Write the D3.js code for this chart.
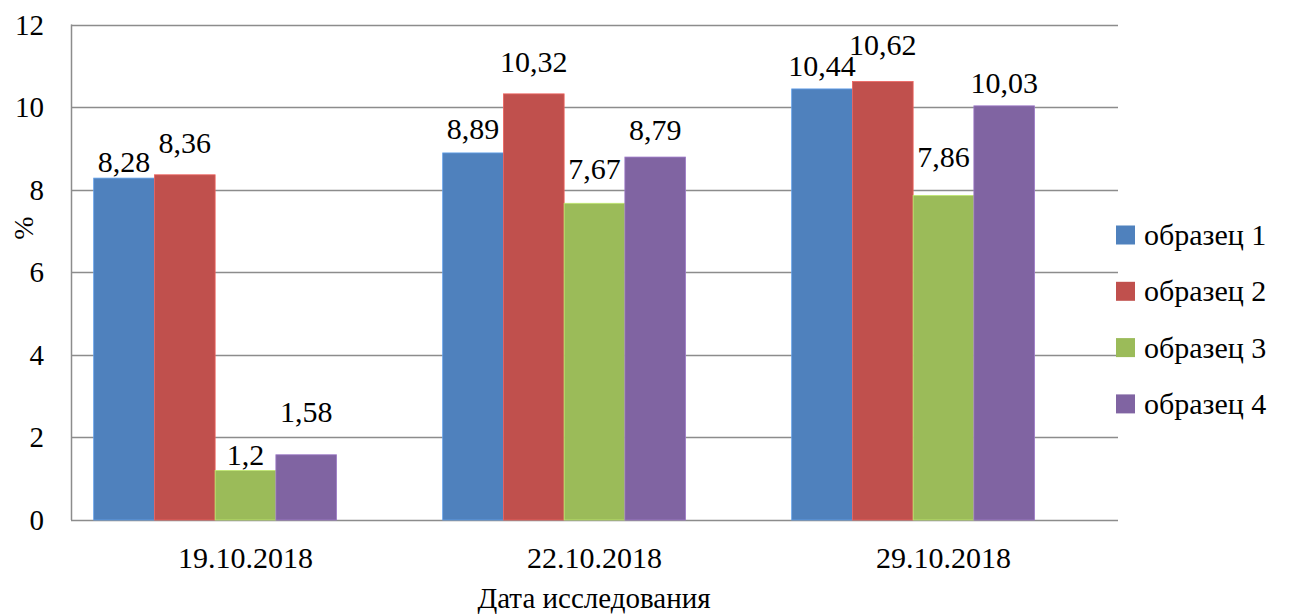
<!DOCTYPE html>
<html>
<head>
<meta charset="utf-8">
<script src="https://cdn.jsdelivr.net/npm/d3@7"></script>
</head>
<body style="margin:0">
<script>
var dates = ["19.10.2018", "22.10.2018", "29.10.2018"];
var seriesNames = ["образец 1", "образец 2", "образец 3", "образец 4"];
var sample1 = [8.28, 8.89, 10.44];
var sample2 = [8.36, 10.32, 10.62];
var sample3 = [1.2, 7.67, 7.86];
var sample4 = [1.58, 8.79, 10.03];
var yTicks = [0, 2, 4, 6, 8, 10, 12];

var colors = ["#4F81BD", "#C0504D", "#9BBB59", "#8064A2"];
// how far each value label sits above its bar (the original has them nudged by hand)
var labelLift = [[6, 22, 5, 33], [14, 22, 24, 17], [13, 26, 28, 13]];

var FONT = "Tinos, 'Liberation Serif', 'Times New Roman', serif";

var W = 1298, H = 616;
var margin = { top: 24.5, right: 180, bottom: 96, left: 71 };

var svg = d3.select("body").append("svg")
    .attr("width", W)
    .attr("height", H)
    .style("font-family", FONT);

var x0 = d3.scaleBand()
    .domain(dates)
    .range([margin.left, W - margin.right])
    .paddingInner(0.13)
    .paddingOuter(0.065);

// five slots per group, the last one stays empty (as in the original)
var x1 = d3.scaleBand()
    .domain(d3.range(5))
    .range([0, x0.bandwidth()]);

var y = d3.scaleLinear()
    .domain([0, 12])
    .range([H - margin.bottom, margin.top]);

var allSeries = [sample1, sample2, sample3, sample4];
var cells = [];
dates.forEach((d, i) => allSeries.forEach((s, k) => cells.push({ date: d, i: i, k: k, v: s[i] })));

// grid
svg.selectAll("line.grid")
    .data(yTicks)
    .enter().append("line")
    .attr("class", "grid")
    .attr("x1", margin.left)
    .attr("x2", W - margin.right)
    .attr("y1", d => Math.round(y(d)) + 0.5)
    .attr("y2", d => Math.round(y(d)) + 0.5)
    .attr("stroke", "#8c8c8c")
    .attr("stroke-width", 1.5);

svg.append("line")
    .attr("x1", margin.left + 0.5)
    .attr("x2", margin.left + 0.5)
    .attr("y1", y(12))
    .attr("y2", y(0))
    .attr("stroke", "#8c8c8c")
    .attr("stroke-width", 1.5);

// bars
svg.selectAll("rect.bar")
    .data(cells)
    .enter().append("rect")
    .attr("class", "bar")
    .attr("x", d => x0(d.date) + x1(d.k))
    .attr("width", x1.bandwidth())
    .attr("y", d => y(d.v))
    .attr("height", d => y(0) - y(d.v))
    .attr("fill", d => colors[d.k])
    .attr("stroke", d => d3.color(colors[d.k]).brighter(0.6))
    .attr("stroke-width", 0.8);

// legend swatches
svg.selectAll("rect.key")
    .data(seriesNames)
    .enter().append("rect")
    .attr("class", "key")
    .attr("x", 1116)
    .attr("y", (d, i) => 225.5 + i * 56.3)
    .attr("width", 19)
    .attr("height", 19)
    .attr("fill", (d, i) => colors[i]);

// y tick labels
svg.selectAll("text.tick")
    .data(yTicks)
    .enter().append("text")
    .attr("class", "tick")
    .attr("x", 44)
    .attr("y", d => y(d) + 10)
    .attr("text-anchor", "end")
    .style("font-family", FONT)
    .attr("font-size", 29)
    .text(d => String(d));

// value labels
svg.selectAll("text.val")
    .data(cells)
    .enter().append("text")
    .attr("class", "val")
    .attr("x", d => x0(d.date) + x1(d.k) + x1.bandwidth() / 2)
    .attr("y", d => y(d.v) - labelLift[d.i][d.k])
    .attr("text-anchor", "middle")
    .style("font-family", FONT)
    .attr("font-size", 30)
    .text(d => String(d.v).replace(".", ","));

// x category labels
svg.selectAll("text.cat")
    .data(dates)
    .enter().append("text")
    .attr("class", "cat")
    .attr("x", d => x0(d) + x0.bandwidth() / 2)
    .attr("y", 568)
    .attr("text-anchor", "middle")
    .style("font-family", FONT)
    .attr("font-size", 30)
    .text(d => d);

// axis titles
svg.append("text")
    .attr("x", 594)
    .attr("y", 608)
    .attr("text-anchor", "middle")
    .style("font-family", FONT)
    .attr("font-size", 29)
    .text("Дата исследования");

svg.append("text")
    .attr("transform", "translate(33,228) rotate(-90)")
    .attr("text-anchor", "middle")
    .style("font-family", FONT)
    .attr("font-size", 28)
    .text("%");

// legend labels
svg.selectAll("text.key")
    .data(seriesNames)
    .enter().append("text")
    .attr("class", "key")
    .attr("x", 1144)
    .attr("y", (d, i) => 245 + i * 56.3)
    .style("font-family", FONT)
    .attr("font-size", 30)
    .text(d => d);
</script>
</body>
</html>
